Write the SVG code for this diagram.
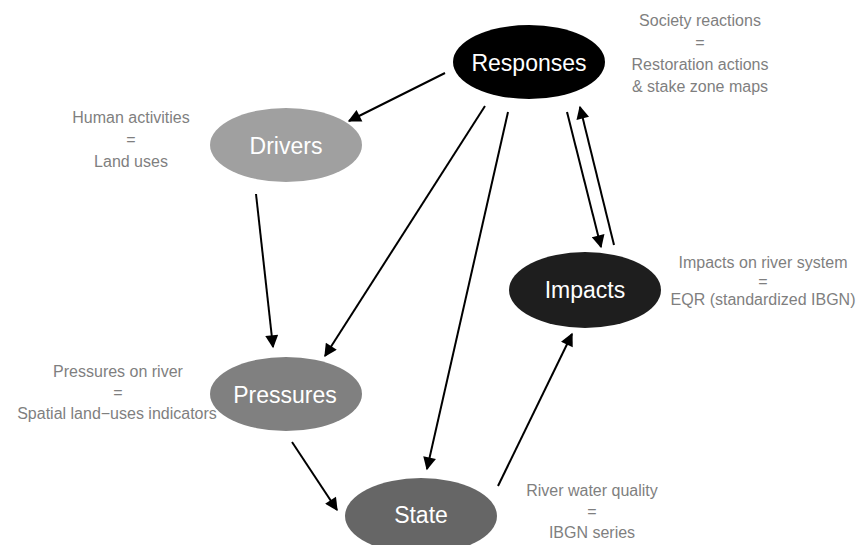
<svg xmlns="http://www.w3.org/2000/svg" width="857" height="545" viewBox="0 0 857 545">
<style>
.lbl{font-family:"Liberation Sans",Arial,sans-serif;font-size:16px;fill:#7f7f7f;text-anchor:middle}
.nt{font-family:"Liberation Sans",Arial,sans-serif;font-size:23px;fill:#ffffff;text-anchor:middle}
.c{stroke:#000;stroke-width:2;fill:none;marker-end:url(#ah)}
</style>
<defs>
<marker id="ah" viewBox="0 0 10 10" refX="9" refY="5" markerWidth="7" markerHeight="6.5" markerUnits="strokeWidth" orient="auto">
<path d="M0,0 L10,5 L0,10 z" fill="#000"/>
</marker>
</defs>
<rect width="857" height="545" fill="#fff"/>
<g id="connectors">
<line class="c" x1="445" y1="73" x2="349" y2="121"/>
<line class="c" x1="256" y1="194" x2="273" y2="347"/>
<line class="c" x1="485" y1="106" x2="325" y2="356"/>
<line class="c" x1="508" y1="112" x2="427" y2="469"/>
<line class="c" x1="292" y1="442" x2="337" y2="510"/>
<line class="c" x1="498" y1="486" x2="572" y2="334"/>
<line class="c" x1="567" y1="112" x2="601" y2="247"/>
<line class="c" x1="614" y1="245" x2="580" y2="107"/>
</g>
<g id="responses">
<ellipse cx="529" cy="62" rx="76" ry="37" fill="#000"/>
<text class="nt" x="529" y="71">Responses</text>
</g>
<g id="drivers">
<ellipse cx="286" cy="145" rx="76" ry="37" fill="#a0a0a0"/>
<text class="nt" x="286" y="154" fill="#f2f2f2">Drivers</text>
</g>
<g id="pressures">
<ellipse cx="286" cy="394" rx="76" ry="37" fill="#808080"/>
<text class="nt" x="285" y="403">Pressures</text>
</g>
<g id="impacts">
<ellipse cx="585" cy="290" rx="76" ry="38" fill="#1e1e1e"/>
<text class="nt" x="585" y="298">Impacts</text>
</g>
<g id="state">
<ellipse cx="421" cy="516" rx="76" ry="38" fill="#666666"/>
<text class="nt" x="421" y="523">State</text>
</g>
<g id="label-responses">
<text class="lbl" x="700" y="26">Society reactions</text>
<text class="lbl" x="700" y="48">=</text>
<text class="lbl" x="700" y="70">Restoration actions</text>
<text class="lbl" x="700" y="92">&amp; stake zone maps</text>
</g>
<g id="label-drivers">
<text class="lbl" x="131" y="123">Human activities</text>
<text class="lbl" x="131" y="145">=</text>
<text class="lbl" x="131" y="167">Land uses</text>
</g>
<g id="label-pressures">
<text class="lbl" x="118" y="377">Pressures on river</text>
<text class="lbl" x="118" y="398">=</text>
<text class="lbl" x="117" y="419">Spatial land−uses indicators</text>
</g>
<g id="label-impacts">
<text class="lbl" x="763" y="268">Impacts on river system</text>
<text class="lbl" x="763" y="287">=</text>
<text class="lbl" x="763" y="305">EQR (standardized IBGN)</text>
</g>
<g id="label-state">
<text class="lbl" x="592" y="496">River water quality</text>
<text class="lbl" x="592" y="517">=</text>
<text class="lbl" x="592" y="538">IBGN series</text>
</g>
</svg>
